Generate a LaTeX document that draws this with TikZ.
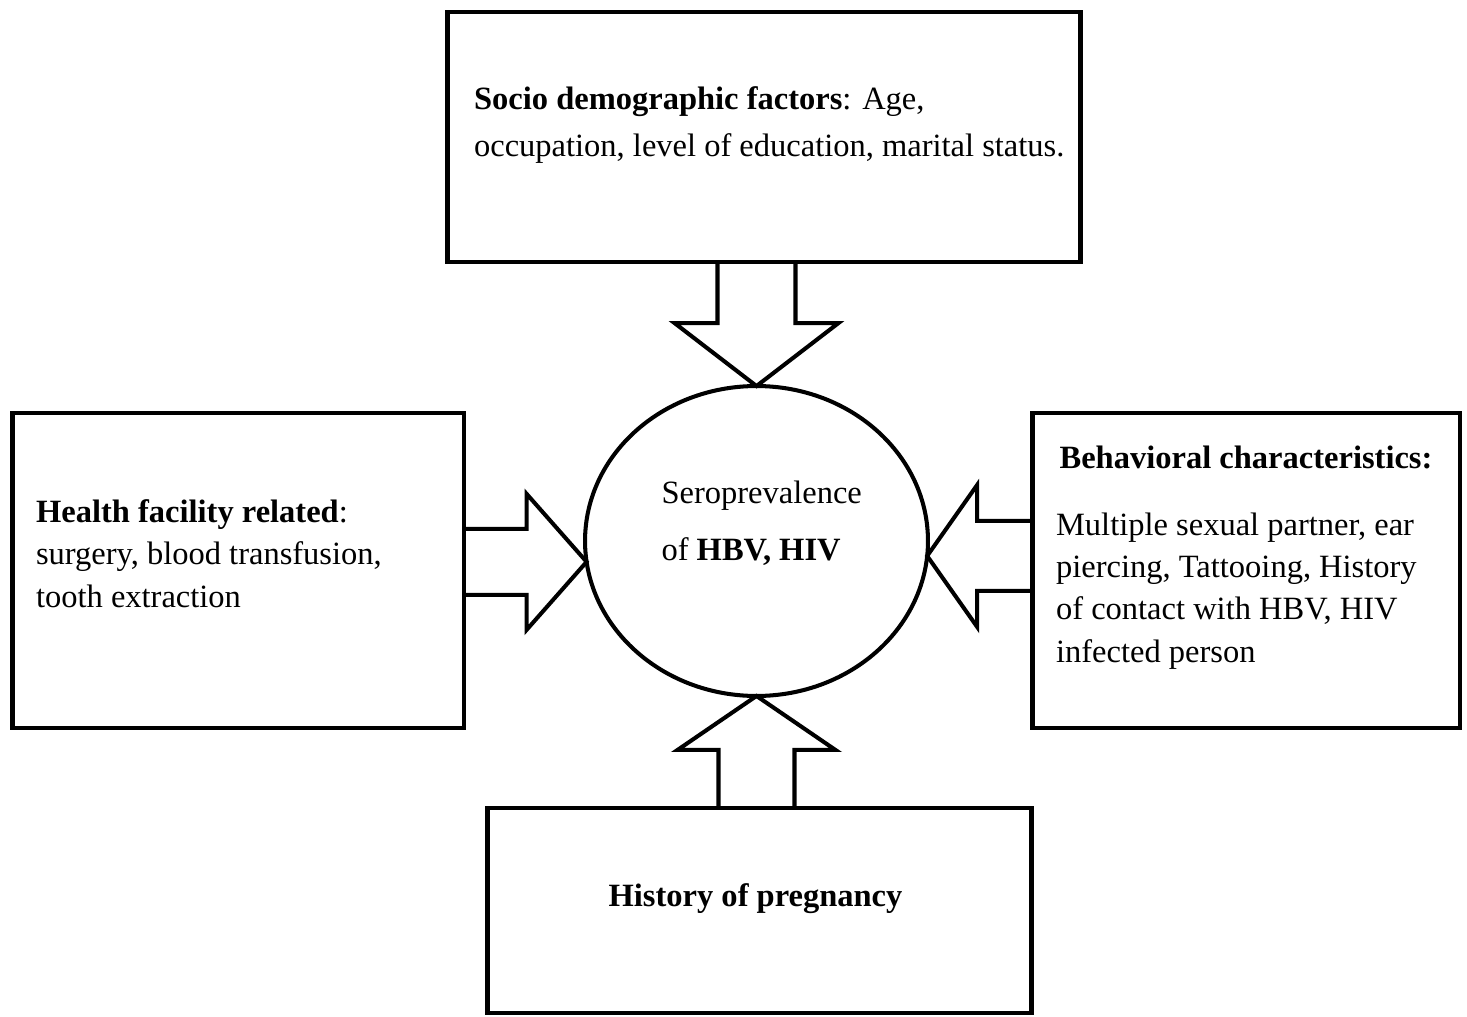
\documentclass[tikz,border=0pt]{standalone}
\usepackage{fontspec}
\setmainfont{Liberation Serif}
\usetikzlibrary{calc,shapes.geometric}

\begin{document}
\begin{tikzpicture}[x=0.02cm,y=-0.02cm,line width=2.3pt,
  box/.style={draw,rectangle,line width=2.8pt,inner sep=0pt,outer sep=0pt},
  txt/.style={inner sep=0pt,align=left,font=\fontsize{18.5pt}{24pt}\selectfont},
  blockarrow/.style={draw,line join=miter}]
\useasboundingbox (0,0) rectangle (1467,1017);
%%boxes
\node[box,minimum width=12.68cm,minimum height=5cm] (socio) at (764,137) {};
\node[box,minimum width=9.04cm,minimum height=6.3cm] (health) at (238,570.5) {};
\node[box,minimum width=8.56cm,minimum height=6.3cm] (behav) at (1246,570.5) {};
\node[box,minimum width=10.9cm,minimum height=4.1cm] (preg) at (759.5,910.5) {};
\node[box,ellipse,line width=2.3pt,minimum width=6.86cm,minimum height=6.2cm] (sero) at (756.5,541) {};

%%block arrows
\coordinate (tipT) at (sero.north);
\coordinate (baseT) at (socio.south -| tipT);
\draw[blockarrow] ($(baseT)+(-39,0)$) -- ($(tipT)+(-39,-63)$) -- ($(tipT)+(-82,-63)$) -- (tipT)
  -- ($(tipT)+(82,-63)$) -- ($(tipT)+(39,-63)$) -- ($(baseT)+(39,0)$);
\coordinate (tipB) at (sero.south);
\coordinate (baseB) at (preg.north -| tipB);
\draw[blockarrow] ($(baseB)+(-38,0)$) -- ($(tipB)+(-38,54)$) -- ($(tipB)+(-79,54)$) -- (tipB)
  -- ($(tipB)+(79,54)$) -- ($(tipB)+(38,54)$) -- ($(baseB)+(38,0)$);
\coordinate (tipL) at (sero.187);
\coordinate (baseL) at (health.east |- tipL);
\draw[blockarrow] ($(baseL)+(0,-33)$) -- ($(tipL)+(-60,-33)$) -- ($(tipL)+(-60,-68)$) -- (tipL)
  -- ($(tipL)+(-60,68)$) -- ($(tipL)+(-60,33)$) -- ($(baseL)+(0,33)$);
\coordinate (tipR) at (sero.-5);
\coordinate (baseR) at (behav.west |- tipR);
\draw[blockarrow] ($(baseR)+(0,-35)$) -- ($(tipR)+(50,-35)$) -- ($(tipR)+(50,-71)$) -- (tipR)
  -- ($(tipR)+(50,71)$) -- ($(tipR)+(50,35)$) -- ($(baseR)+(0,35)$);

%%texts (base = last line)
\node[txt,anchor=base west,font=\fontsize{18.5pt}{26.7pt}\selectfont] (sociotxt) at ($(socio.north west)+(25,144)$)
  {\textbf{Socio demographic factors}: Age,\\occupation, level of education, marital status.};
\node[txt,anchor=base west] (healthtxt) at ($(health.north west)+(22,194)$)
  {\textbf{Health facility related}:\\surgery, blood transfusion,\\tooth extraction};
\node[txt,anchor=base] (behavhead) at ($(behav.north)+(0,55)$) {\textbf{Behavioral characteristics:}};
\node[txt,anchor=base west] (behavtxt) at ($(behav.north west)+(22,249)$)
  {Multiple sexual partner, ear\\piercing, Tattooing, History\\of contact with HBV, HIV\\infected person};
\node[txt,anchor=base] (pregtxt) at ($(preg.center)+(-4,-4)$) {\textbf{History of pregnancy}};
\node[txt,anchor=base west,font=\fontsize{18.5pt}{32.4pt}\selectfont] (serotxt) at ($(sero.center)+(-97,19)$)
  {Seroprevalence\\of \textbf{HBV, HIV}};
\end{tikzpicture}
\end{document}
